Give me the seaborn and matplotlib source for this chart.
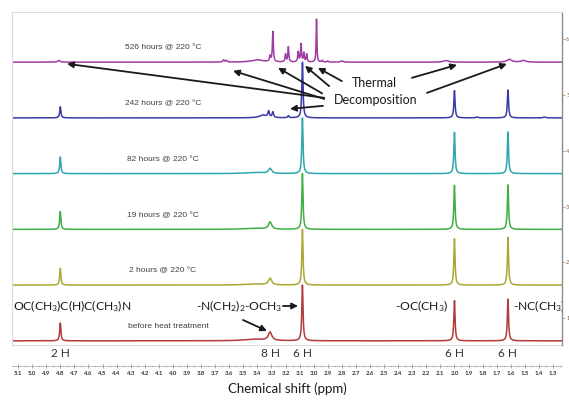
import numpy as np
import pandas as pd
import matplotlib
matplotlib.use("Agg")
import matplotlib.pyplot as plt
from matplotlib.ticker import MultipleLocator, FormatStrFormatter
import seaborn as sns

# samples, bottom to top
samples = ["before heat treatment", "2 hours @ 220 °C", "19 hours @ 220 °C",
           "82 hours @ 220 °C", "242 hours @ 220 °C", "526 hours @ 220 °C"]
colors = ["#b23a3a", "#a9a833", "#3fae45", "#2ea6ad", "#3a3aa6", "#a03ca2"]

# peak lists: (ppm, height, half width)
peaks_0h = [(4.80, 0.32, 0.005), (3.42, 0.03, 0.08), (3.31, 0.15, 0.015),
            (3.08, 1.00, 0.005), (2.00, 0.72, 0.005), (1.62, 0.75, 0.005)]
peaks_2h = [(4.80, 0.30, 0.005), (3.42, 0.02, 0.08), (3.31, 0.12, 0.013),
            (3.08, 1.00, 0.005), (2.00, 0.83, 0.005), (1.62, 0.86, 0.005)]
peaks_19h = [(4.80, 0.32, 0.005), (3.42, 0.02, 0.08), (3.31, 0.13, 0.013),
             (3.08, 1.00, 0.005), (2.00, 0.79, 0.005), (1.62, 0.80, 0.005)]
peaks_82h = [(4.80, 0.30, 0.005), (3.42, 0.02, 0.08), (3.31, 0.09, 0.013),
             (3.08, 1.00, 0.005), (2.00, 0.74, 0.005), (1.62, 0.75, 0.005)]
peaks_242h = [(4.80, 0.20, 0.005), (3.36, 0.05, 0.03), (3.32, 0.11, 0.006),
              (3.29, 0.10, 0.006), (3.18, 0.04, 0.005), (3.08, 1.00, 0.005),
              (2.00, 0.49, 0.005), (1.84, 0.015, 0.01), (1.62, 0.50, 0.005),
              (1.36, 0.015, 0.01)]
peaks_526h = [(4.81, 0.03, 0.01), (3.64, 0.04, 0.006), (3.62, 0.03, 0.006),
              (3.40, 0.04, 0.05), (3.31, 0.10, 0.005), (3.29, 0.54, 0.004),
              (3.20, 0.14, 0.004), (3.18, 0.27, 0.004), (3.11, 0.18, 0.004),
              (3.09, 0.32, 0.004), (3.07, 0.16, 0.004), (3.05, 0.14, 0.004),
              (2.98, 0.77, 0.003), (2.94, 0.03, 0.005), (2.90, 0.02, 0.005),
              (2.80, 0.02, 0.01), (2.06, 0.03, 0.02), (1.61, 0.05, 0.02),
              (1.51, 0.03, 0.02)]
all_peaks = [peaks_0h, peaks_2h, peaks_19h, peaks_82h, peaks_242h, peaks_526h]

# proton counts under the bottom spectrum
h_pos = [4.80, 3.31, 3.08, 2.00, 1.62]
h_labels = ["2 H", "8 H", "6 H", "6 H", "6 H"]

ppm = np.linspace(5.143, 1.236, 6000)
rows = []
for i, (name, pk) in enumerate(zip(samples, all_peaks)):
    y = np.zeros_like(ppm)
    for x0, h, w in pk:
        y += h * w**2 / ((ppm - x0)**2 + w**2)
    rows.append(pd.DataFrame({"ppm": ppm, "y": y + 0.59 + i, "sample": name}))
df = pd.concat(rows, ignore_index=True)

sns.set_style("white")
plt.rcParams["font.family"] = ["Lato", "DejaVu Sans"]
plt.rcParams["mathtext.fontset"] = "custom"
plt.rcParams["mathtext.rm"] = "Lato"
plt.rcParams["mathtext.it"] = "Lato:italic"

fig = plt.figure(figsize=(5.69, 4.0), dpi=100)
ax = fig.add_axes([0.0211, 0.1375, 0.9666, 0.8325])

sns.lineplot(data=df, x="ppm", y="y", hue="sample", palette=colors,
             estimator=None, sort=False, legend=False, lw=1.1, ax=ax)

ax.set_xlim(5.143, 1.236)
ax.set_ylim(0.515, 6.49)

# sample names
for i, name in enumerate(samples):
    xs = 4.035 if i == 0 else 4.07
    ax.text(xs, 0.59 + i + 0.25, name, ha="center", va="center",
            fontsize=6, color="#404040", family="Liberation Sans")

# group labels
kw = dict(fontsize=8.7, color="#1a1a1a", va="center")
ax.text(5.136, 1.215, r"OC(CH$_3$)C(H)C(CH$_3$)N", ha="left", **kw)
ax.text(3.225, 1.215, r"-N(CH$_2$)$_2$-OCH$_3$", ha="right", **kw)
ax.text(2.046, 1.215, r"-OC(CH$_3$)", ha="right", **kw)
ax.text(1.584, 1.215, r"-NC(CH$_3$)", ha="left", clip_on=True, **kw)

for xp, lab in zip(h_pos, h_labels):
    ax.text(xp, 0.37, lab, ha="center", va="center", fontsize=8.5,
            color="#333333", clip_on=False)

ax.text(2.565, 5.22, "Thermal", ha="center", va="center", fontsize=9, color="#1a1a1a")
ax.text(2.557, 4.914, "Decomposition", ha="center", va="center", fontsize=9, color="#1a1a1a")

# arrows: (tail, tip)
arrows = [((2.925, 4.95), (4.752, 5.56)),
          ((2.925, 4.93), (3.573, 5.434)),
          ((2.940, 5.03), (3.253, 5.488)),
          ((2.890, 5.16), (3.062, 5.524)),
          ((2.800, 5.25), (2.970, 5.488)),
          ((2.934, 4.806), (3.168, 4.752)),
          ((2.302, 5.309), (1.982, 5.542)),
          ((2.195, 5.039), (1.627, 5.560)),
          ((3.218, 1.215), (3.111, 1.215)),
          ((3.502, 0.964), (3.332, 0.767))]
for tail, tip in arrows:
    ax.annotate("", xy=tip, xytext=tail,
                arrowprops=dict(arrowstyle="-|>", color="#1a1a1a", lw=1.3,
                                mutation_scale=9, shrinkA=0, shrinkB=0))

# frame and axes
for s in ["left", "top"]:
    ax.spines[s].set_color("#dcdcdc")
    ax.spines[s].set_linewidth(0.8)
ax.spines["right"].set_color("#8c8c8c")
ax.spines["right"].set_linewidth(1.0)
ax.spines["bottom"].set_position(("outward", 15))
ax.spines["bottom"].set_color("#b0b0b0")
ax.spines["bottom"].set_linewidth(0.6)
ax.plot([0, 1], [0, 0], transform=ax.transAxes, color="#dcdcdc", lw=0.8, clip_on=False)

ax.xaxis.set_major_locator(MultipleLocator(0.1))
ax.xaxis.set_minor_locator(MultipleLocator(0.05))
ax.xaxis.set_major_formatter(FormatStrFormatter("%.1f"))
ax.tick_params(axis="x", which="major", direction="inout", length=3, width=0.5,
               labelsize=4.3, labelcolor="#333333", color="#777777", pad=2, bottom=True)
ax.tick_params(axis="x", which="minor", direction="inout", length=1.5, width=0.4,
               color="#999999", bottom=True)
for t in ax.get_xticklabels():
    t.set_fontweight("bold")

ax.yaxis.tick_right()
ax.set_yticks([1, 2, 3, 4, 5, 6])
ax.set_yticklabels(["1", "2", "3", "4", "5", "6"])
ax.tick_params(axis="y", length=2, width=0.5, color="#8c8c8c", labelsize=4,
               labelcolor="#7a5a40", pad=1, right=True)

ax.set_xlabel("Chemical shift (ppm)", fontsize=9.5, color="#1a1a1a", labelpad=5)
ax.set_ylabel("")

fig.savefig("out.png", dpi=100)
